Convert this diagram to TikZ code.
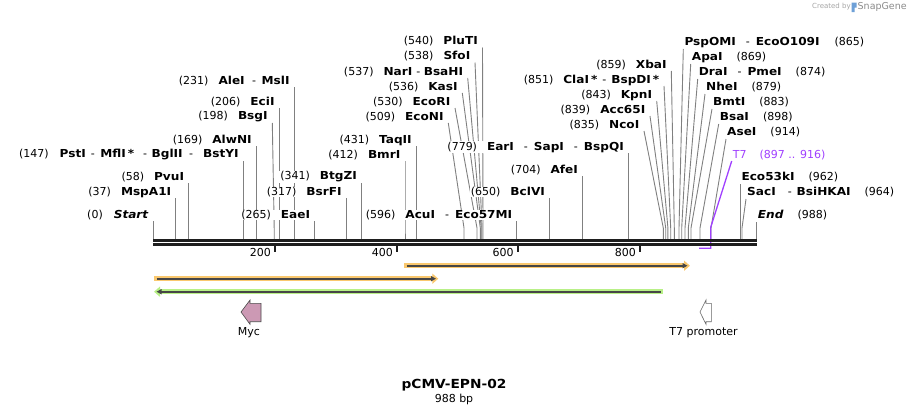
\documentclass[tikz,border=0pt]{standalone}
\usepackage{fontspec}
\setmainfont{DejaVu Sans}[BoldFeatures={FakeStretch=1.1},BoldItalicFeatures={FakeStretch=1.1}]
\usetikzlibrary{arrows.meta}
\pgfdeclarelayer{back}
\pgfdeclarelayer{bg}
\pgfsetlayers{back,bg,main}
\definecolor{cutgray}{RGB}{128,128,128}
\definecolor{tsevenpurple}{RGB}{160,64,255}
\definecolor{orfor}{RGB}{250,200,110}
\definecolor{orfgreen}{RGB}{184,240,135}
\definecolor{orfline}{RGB}{70,70,70}
\definecolor{mycpink}{RGB}{204,153,180}
\definecolor{rulerblack}{RGB}{30,30,30}
\definecolor{logoblue}{RGB}{110,160,215}
\newcommand\E[1]{\textbf{#1}}
\newcommand\sepr{\hspace{10pt}-\hspace{6pt}}
\newcommand\sepw[2]{\hspace{#1pt}-\hspace{#2pt}}
\newcommand\ngap{\hspace{10pt}}
\newcommand\rgap{\hspace{14pt}}
\newcommand\lblfont{\fontsize{11}{13}\selectfont}
\tikzset{
  cutline/.style={cutgray, line width=0.9pt},
  lblL/.style={anchor=east, inner xsep=1pt, inner ysep=0.5pt, fill=white, font=\lblfont},
  lblR/.style={anchor=west, inner xsep=1pt, inner ysep=0.5pt, fill=white, font=\lblfont},
  ticklbl/.style={anchor=east, inner sep=1pt, font=\lblfont},
  featlbl/.style={inner sep=1pt, font=\lblfont},
}
% name, xtop, ycenter, xsite, text
\newcommand\cutL[5]{%
  \coordinate (#1-t) at (#2,#3+6);
  \coordinate (#1-b) at (#4,228);
  \coordinate (#1-s) at (#4,239.5);
  \begin{pgfonlayer}{bg}\draw[cutline] (#1-t) -- (#1-b) -- (#1-s);\end{pgfonlayer}
  \node[lblL] (#1) at (#2-3.5,#3) {#5};}
\newcommand\cutR[5]{%
  \coordinate (#1-t) at (#2,#3+7);
  \coordinate (#1-b) at (#4,228);
  \coordinate (#1-s) at (#4,239.5);
  \begin{pgfonlayer}{bg}\draw[cutline] (#1-t) -- (#1-b) -- (#1-s);\end{pgfonlayer}
  \node[lblR] (#1) at (#2,#3) {#5};}
\begin{document}
\begin{tikzpicture}[x=1pt,y=-1pt]
\useasboundingbox (0,0) rectangle (910,415);
\begin{pgfonlayer}{back}
\fill[white] (0,0) rectangle (910,415);
\end{pgfonlayer}

% watermark
\node[anchor=west, inner sep=0, text=black!35, font=\fontsize{7}{8}\selectfont] (wmA) at (812,7) {Created by};
\fill[logoblue] (851.5,2.5) rectangle (854.5,12) (851.5,2.5) rectangle (856.5,7.5);
\node[anchor=west, inner sep=0, text=black!45, font=\fontsize{9.5}{10}\selectfont] (wmB) at (857.5,7) {SnapGene};

% left labels
\cutL{start}{153.3}{215}{153.3}{(0)\hspace{11pt}\textbf{\textit{Start}}}
\cutL{mspa}{175.9}{192}{175.9}{(37)\ngap\E{MspA1I}}
\cutL{pvui}{188.7}{177}{188.7}{(58)\ngap\E{PvuI}}
\cutL{psti}{243.3}{155}{243.3}{(147)\hspace{11pt}\E{PstI}\sepw{5}{5.5}\E{MflI}\hspace{2pt}\E{*}\sepw{9}{4.5}\E{BglII}\sepw{6.5}{10}\E{BstYI}}
\cutL{alwni}{256.4}{140}{256.4}{(169)\ngap\E{AlwNI}}
\cutL{bsgi}{272.3}{117}{274.2}{(198)\ngap\E{BsgI}}
\cutL{ecii}{279.2}{102}{279.2}{(206)\ngap\E{EciI}}
\cutL{alei}{294.3}{81}{294.3}{(231)\ngap\E{AleI}\sepw{7.5}{5.5}\E{MslI}}
\cutL{eaei}{314.8}{215}{314.8}{(265)\ngap\E{EaeI}}
\cutL{bsrfi}{346.3}{192}{346.3}{(317)\ngap\E{BsrFI}}
\cutL{btgzi}{361.6}{177}{361.6}{(341)\ngap\E{BtgZI}}
\cutL{bmri}{405}{155}{405}{(412)\ngap\E{BmrI}}
\cutL{taqii}{416.4}{140}{416.4}{(431)\ngap\E{TaqII}}
\cutL{econi}{448.3}{117}{464}{(509)\ngap\E{EcoNI}}
\cutL{ecori}{455}{102}{477}{(530)\ngap\E{EcoRI}}
\cutL{kasi}{462.3}{87}{480.3}{(536)\ngap\E{KasI}}
\cutL{nari}{467.7}{72}{481.2}{(537)\ngap\E{NarI}\sepw{4}{3.5}\E{BsaHI}}
\cutL{sfoi}{475}{56.5}{482}{(538)\ngap\E{SfoI}}
\cutL{pluti}{482.5}{41.5}{483}{(540)\ngap\E{PluTI}}
\cutL{acui}{516.9}{215}{516.9}{(596)\ngap\E{AcuI}\sepr\E{Eco57MI}}
\cutL{bclvi}{549.6}{192}{549.6}{(650)\ngap\E{BclVI}}
\cutL{afei}{582.6}{170}{582.6}{(704)\ngap\E{AfeI}}
\cutL{eari}{628.5}{147}{628.5}{(779)\ngap\E{EarI}\sepr\E{SapI}\sepr\E{BspQI}}
\cutL{ncoi}{644}{125}{663.3}{(835)\ngap\E{NcoI}}
\cutL{acc}{650}{110}{665.7}{(839)\ngap\E{Acc65I}}
\cutL{kpni}{656.7}{95}{667.9}{(843)\ngap\E{KpnI}}
\cutL{clai}{664}{80}{670.7}{(851)\ngap\E{ClaI}\hspace{2pt}\E{*}\sepw{5}{5}\E{BspDI}\hspace{2pt}\E{*}}
\cutL{xbai}{671.3}{65}{674.3}{(859)\ngap\E{XbaI}}

% right labels
\cutR{pspomi}{683.3}{42}{679}{\E{PspOMI}\sepr\E{EcoO109I}\hspace{15pt}(865)}
\cutR{apai}{690.7}{57}{681.7}{\E{ApaI}\rgap(869)}
\cutR{drai}{697.7}{72}{685}{\E{DraI}\sepr\E{PmeI}\rgap(874)}
\cutR{nhei}{705}{87}{688.3}{\E{NheI}\rgap(879)}
\cutR{bmti}{712}{102}{691}{\E{BmtI}\rgap(883)}
\cutR{bsai}{718.7}{117}{700}{\E{BsaI}\rgap(898)}
\cutR{asei}{726}{132}{711}{\E{AseI}\rgap(914)}
\cutR{ecofs}{740.3}{177}{740.3}{\E{Eco53kI}\rgap(962)}
\cutR{saci}{746}{192}{742}{\E{SacI}\sepw{12}{5}\E{BsiHKAI}\rgap(964)}
\cutR{endl}{756.7}{215}{756.7}{\textbf{\textit{End}}\rgap(988)}

% T7 feature
\coordinate (tseven-t) at (731.7,161);
\coordinate (tseven-b) at (710.7,227.3);
\coordinate (tseven-e) at (710.7,248.3);
\coordinate (tseven-f) at (699,248.3);
\begin{pgfonlayer}{bg}
\draw[tsevenpurple, line width=1.3pt] (tseven-t) -- (tseven-b) -- (tseven-e) -- (tseven-f);
\end{pgfonlayer}
\node[lblR, text=tsevenpurple] (tseven) at (731.7,155) {T7\hspace{13pt}(897 .. 916)};

% ruler
\coordinate (rA1) at (153,240.6);
\coordinate (rB1) at (757,240.6);
\coordinate (rA2) at (153,244.6);
\coordinate (rB2) at (757,244.6);
\draw[rulerblack, line width=2.4pt] (rA1) -- (rB1);
\draw[rulerblack, line width=2.4pt] (rA2) -- (rB2);
\foreach \tx/\tl in {275/200, 397/400, 517.7/600, 640/800}{
  \coordinate (tk\tl-a) at (\tx,245);
  \coordinate (tk\tl-b) at (\tx,252);
  \draw[rulerblack, line width=2pt] (tk\tl-a) -- (tk\tl-b);
  \node[ticklbl] (tkl\tl) at (\tx-3,252.5) {\tl};
}

% ORF-like bars
\coordinate (fa1) at (404.3,265.7); \coordinate (fa2) at (690,265.7);
\coordinate (fa3) at (406.5,265.7); \coordinate (fa4) at (687.5,265.7);
\draw[line width=5pt, orfor, -{Triangle[length=6pt,width=10pt]}] (fa1) -- (fa2);
\draw[line width=1.6pt, orfline, -{Triangle[length=5pt,width=5pt]}] (fa3) -- (fa4);

\coordinate (fb1) at (154,278.7); \coordinate (fb2) at (438.3,278.7);
\coordinate (fb3) at (156.5,278.7); \coordinate (fb4) at (436,278.7);
\draw[line width=5pt, orfor, -{Triangle[length=6pt,width=10pt]}] (fb1) -- (fb2);
\draw[line width=1.6pt, orfline, -{Triangle[length=5pt,width=5pt]}] (fb3) -- (fb4);

\coordinate (fc1) at (662.7,291.7); \coordinate (fc2) at (154,291.7);
\coordinate (fc3) at (660.5,291.7); \coordinate (fc4) at (156.5,291.7);
\draw[line width=5pt, orfgreen, -{Triangle[length=6pt,width=10pt]}] (fc1) -- (fc2);
\draw[line width=1.6pt, orfline, -{Triangle[length=5pt,width=5pt]}] (fc3) -- (fc4);

% Myc
\draw[fill=mycpink, draw=black!70, line width=0.6pt, line join=miter]
  (261,303.3) -- (250,303.3) -- (250,300) -- (241,312) -- (250,324.3) -- (250,321.7) -- (261,321.7) -- cycle;
\node[featlbl] (myc) at (249,333) {Myc};

% T7 promoter
\draw[fill=white, draw=black!60, line width=0.6pt, line join=miter]
  (711.3,303.3) -- (706,303.3) -- (706,300) -- (700,312) -- (706,324.3) -- (706,321.7) -- (711.3,321.7) -- cycle;
\node[featlbl] (tsevenprom) at (703.5,333) {T7 promoter};

% title
\node[inner sep=0, font=\fontsize{12.5}{14}\selectfont\bfseries] (title) at (454,385) {pCMV-EPN-02};
\node[inner sep=0, font=\fontsize{11}{13}\selectfont] (subtitle) at (454,399) {988 bp};
\end{tikzpicture}
\end{document}
